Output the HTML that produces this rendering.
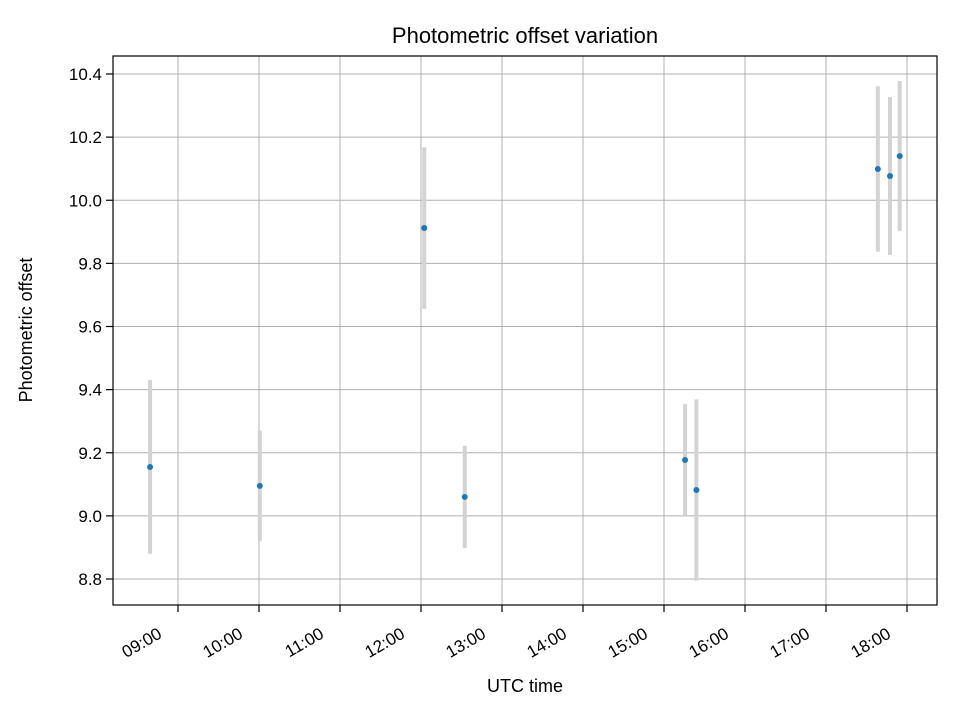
<!DOCTYPE html>
<html><head><meta charset="utf-8"><style>
body{margin:0;background:#fff}
svg text{font-family:"Liberation Sans","DejaVu Sans",sans-serif;fill:#000}
</style></head><body>
<svg id="chart" width="960" height="720" xmlns="http://www.w3.org/2000/svg">
<rect x="0" y="0" width="960" height="720" fill="#fff"/>
<g id="grid"></g>
<g id="errs"></g>
<g id="pts"></g>
<rect x="113" y="56" width="824" height="549" fill="none" stroke="#000" stroke-width="1.2"/>
<g id="axes"></g>
<text x="525" y="43" font-size="22" text-anchor="middle">Photometric offset variation</text>
<text x="525" y="692" font-size="18" text-anchor="middle">UTC time</text>
<text x="32" y="330" font-size="18" text-anchor="middle" transform="rotate(-90 32 330)">Photometric offset</text>
</svg>
<script>
const times=[8.655,10.01,12.04,12.54,15.26,15.40,17.64,17.79,17.91];
const offsets=[9.155,9.095,9.912,9.06,9.177,9.082,10.099,10.077,10.14];
const errors=[0.275,0.175,0.256,0.162,0.177,0.287,0.262,0.25,0.238];
const xTicks=[9,10,11,12,13,14,15,16,17,18];
const xTickLabels=["09:00","10:00","11:00","12:00","13:00","14:00","15:00","16:00","17:00","18:00"];
const yTicks=[8.8,9.0,9.2,9.4,9.6,9.8,10.0,10.2,10.4];
const yTickLabels=["8.8","9.0","9.2","9.4","9.6","9.8","10.0","10.2","10.4"];
const NS="http://www.w3.org/2000/svg";
function xs(h){return 178+(h-9)*81.0;}
function ys(v){return 74+(10.4-v)*315.625;}
function mk(tag,attrs,parent){const e=document.createElementNS(NS,tag);for(const k in attrs)e.setAttribute(k,attrs[k]);document.getElementById(parent).appendChild(e);return e;}
xTicks.forEach((t,i)=>{
 const x=xs(t);
 const g=mk('line',{x1:x,x2:x,y1:56,y2:605,stroke:'#b0b0b0','stroke-width':1},'grid');
 
 
 const tk=mk('line',{x1:x,x2:x,y1:605,y2:612,stroke:'#000','stroke-width':1.2},'axes');
 
 
 const ax=x-15, ay=637;
 const tx=mk('text',{x:ax,y:ay,'font-size':17,'text-anchor':'end',transform:`rotate(-30 ${ax} ${ay})`},'axes');
 tx.textContent=xTickLabels[i];
 
 
});
yTicks.forEach((t,i)=>{
 const y=ys(t);
 const g=mk('line',{x1:113,x2:937,y1:y,y2:y,stroke:'#b0b0b0','stroke-width':1},'grid');
 
 
 const tk=mk('line',{x1:106,x2:113,y1:y,y2:y,stroke:'#000','stroke-width':1.2},'axes');
 
 
 const tx=mk('text',{x:102,y:y+6,'font-size':17,'text-anchor':'end'},'axes');
 tx.textContent=yTickLabels[i];
 
 
});
times.forEach((t,i)=>{
 const x=xs(t);
 const e=mk('line',{x1:x,x2:x,y1:ys(offsets[i]+errors[i]),y2:ys(offsets[i]-errors[i]),stroke:'#d3d3d3','stroke-width':4},'errs');
 
 
 const p=mk('circle',{cx:x,cy:ys(offsets[i]),r:3,fill:'#1f77b4'},'pts');
 
 
});
</script>
</body></html>
